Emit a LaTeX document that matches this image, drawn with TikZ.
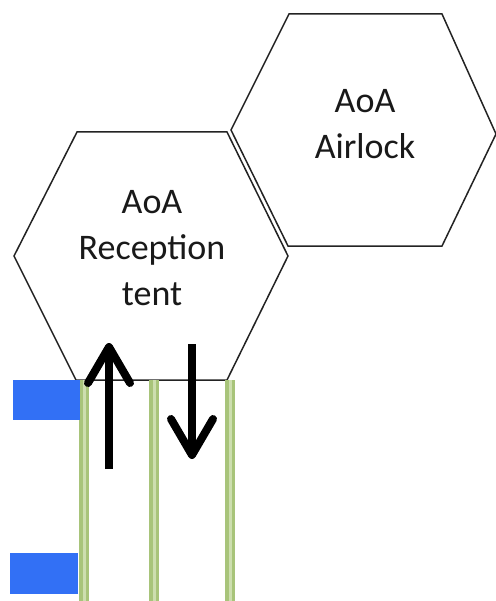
\documentclass[tikz,border=0pt]{standalone}
\usepackage{fontspec}
\setmainfont{Carlito}
\usetikzlibrary{arrows.meta}
\definecolor{edgegray}{RGB}{35,35,35}
\definecolor{stripegreen}{RGB}{168,196,122}
\definecolor{stripelight}{RGB}{205,222,175}
\definecolor{padblue}{RGB}{50,112,245}
\tikzset{
  hexline/.style={draw=edgegray, line width=1.5pt, line join=miter},
  hexlabel/.style={font=\fontsize{36}{46}\selectfont, align=center, text=black!90, inner sep=0pt},
  stripe/.style={draw=stripegreen, line width=10pt},
  stripecore/.style={draw=stripelight, line width=3pt},
  pad/.style={fill=padblue, draw=none},
  bigarrow/.style={draw=black, line width=8pt, -{Straight Barb[length=36pt,width=42pt,line width=8pt,line cap=round,line join=round]}}
}
\begin{document}
\begin{tikzpicture}[x=1pt,y=-1pt]
\useasboundingbox (0,0) rectangle (495,601);
% airlock hexagon
\draw[hexline] (289,14) -- (442,14) -- (496,134) -- (442,246) -- (288,246) -- (231,130) -- cycle;
% reception hexagon
\draw[hexline, fill=white] (77,132) -- (227,132) -- (288,256) -- (227,380) -- (76,380) -- (14,256) -- cycle;
\node[hexlabel] (airlock) at (365,124) {AoA\\Airlock};
\node[hexlabel] (reception) at (152,248) {AoA\\Reception\\tent};
% green stripes
\foreach \i/\x in {1/84,2/154,3/230} {
  \coordinate (s\i top) at (\x,380);
  \coordinate (s\i bot) at (\x,601);
  \draw[stripe] (s\i top) -- (s\i bot);
  \draw[stripecore] (s\i top) -- (s\i bot);
}
% blue pads
\fill[pad] (13,380) rectangle (80,420);
\fill[pad] (10,553) rectangle (78,594);
% arrows
\coordinate (upstart) at (109,469);
\coordinate (upend) at (109,343);
\coordinate (downstart) at (192,344);
\coordinate (downend) at (192,459);
\draw[bigarrow] (upstart) -- (upend);
\draw[bigarrow] (downstart) -- (downend);
\end{tikzpicture}
\end{document}
